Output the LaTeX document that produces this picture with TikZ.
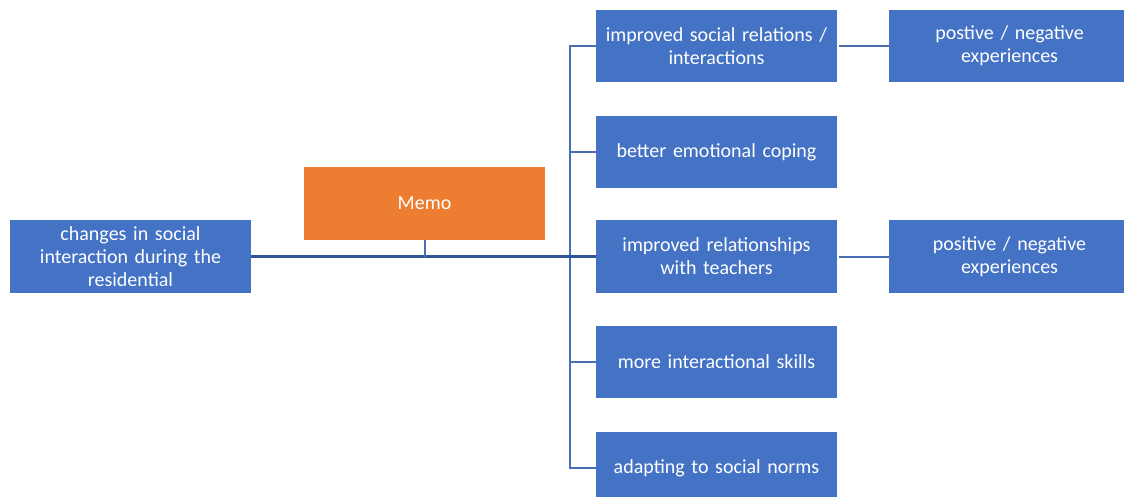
\documentclass[tikz,border=0pt]{standalone}
\usepackage{fontspec}
\setmainfont{Carlito}[WordSpace=1.6]
\definecolor{boxblue}{HTML}{4472C4}
\definecolor{boxorange}{HTML}{ED7D31}
\definecolor{trunkblue}{HTML}{2F5597}
\definecolor{branchblue}{HTML}{4A6FB5}
\begin{document}
\begin{tikzpicture}[x=1pt,y=-1pt,
  box/.style={fill=boxblue, text=white, minimum width=241pt, minimum height=72pt,
    inner sep=0pt, text width=240pt, align=center,
    font=\fontsize{20}{23}\selectfont},
  memobox/.style={box, fill=boxorange},
  trunk/.style={draw=trunkblue, line width=3pt},
  branch/.style={draw=branchblue, line width=2pt, line join=miter},
]
\useasboundingbox (0,0) rectangle (1124,497);

% root, memo and the five outcome boxes
\node[box, minimum height=73pt] (root) at (130.5,256.5) {changes in social\\interaction during the\\residential};
\node[memobox, minimum height=73pt] (memo) at (424.5,203.5) {Memo};
\node[box] (b1) at (716.5,46) {improved social relations /\\interactions};
\node[box] (b2) at (716.5,152) {better emotional coping};
\node[box, minimum height=73pt] (b3) at (716.5,256.5) {improved relationships\\with teachers};
\node[box] (b4) at (716.5,361.5) {more interactional skills};
\node[box] (b5) at (716.5,468) {adapting to social norms};

% experience boxes
\node[box] (e1) at (1009.5,46) {postive / negative\\experiences};
\node[box, minimum height=73pt] (e3) at (1009.5,256.5) {positive / negative\\experiences};

% spine of the tree
\coordinate (spine) at (570,0);
\draw[branch] (b1.west) -- (b1.west -| spine) -- (b5.west -| spine) -- (b5.west);
\draw[branch] (b2.west) -- (b2.west -| spine);
\draw[branch] (b4.west) -- (b4.west -| spine);
\draw[trunk] (root.east) -- (b3.west);
\draw[draw=branchblue, line width=2pt] (memo.south) -- (memo.south |- root.east);

% side links
\draw[branch] (b1.east) ++(2,0) -- (e1.west);
\draw[branch] (b3.east) ++(2,0) -- (e3.west);
\end{tikzpicture}
\end{document}
